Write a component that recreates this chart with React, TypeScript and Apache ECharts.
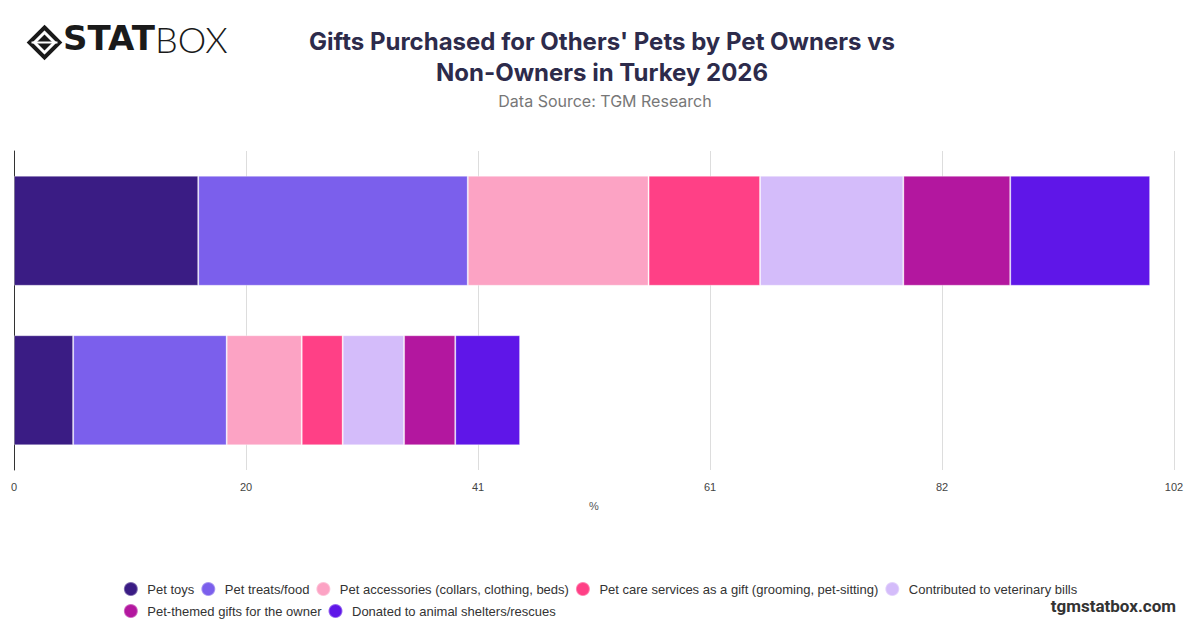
import React, { useEffect, useRef } from "react";
import * as echarts from "echarts";

const categories = ["Pet Owners", "Non-Owners"];
const seriesNames = [
  "Pet toys",
  "Pet treats/food",
  "Pet accessories (collars, clothing, beds)",
  "Pet care services as a gift (grooming, pet-sitting)",
  "Contributed to veterinary bills",
  "Pet-themed gifts for the owner",
  "Donated to animal shelters/rescues",
];
const ownersValues = [16.2, 23.7, 15.9, 9.8, 12.6, 9.4, 12.3];
const nonOwnersValues = [5.2, 13.5, 6.6, 3.6, 5.4, 4.5, 5.7];
const colors = ["#3a1c84", "#7b5fec", "#fca3c4", "#ff4086", "#d4bcfa", "#b3179f", "#5f16e8"];
const axisMax = 102;
const axisInterval = 20.4;

export default function App() {
  const ref = useRef<HTMLDivElement>(null);
  useEffect(() => {
    if (!ref.current) return;
    const chart = echarts.init(ref.current, undefined, { renderer: "svg" });
    const font = "Liberation Sans, Arial, sans-serif";
    chart.setOption({
      animation: false,
      backgroundColor: "#ffffff",
      title: [
        {
          text: "Gifts Purchased for Others' Pets by Pet Owners vs\nNon-Owners in Turkey 2026",
          left: 597,
          top: 21,
          textAlign: "center",
          textStyle: { fontFamily: "Inter, sans-serif", fontSize: 24, fontWeight: "bold", color: "#2d2b4b", lineHeight: 31 },
        },
        {
          text: "Data Source: TGM Research",
          left: 600,
          top: 88,
          textAlign: "center",
          textStyle: { fontFamily: "Inter, sans-serif", fontSize: 16, fontWeight: "normal", color: "#777777" },
        },
      ],
      grid: { left: 14, right: 26, top: 151, bottom: 158, containLabel: false },
      xAxis: {
        type: "value",
        min: 0,
        max: axisMax,
        interval: axisInterval,
        name: "%",
        nameLocation: "middle",
        nameGap: 30,
        nameTextStyle: { fontFamily: font, fontSize: 11, color: "#555" },
        axisLine: { show: false },
        axisTick: { show: false },
        axisLabel: {
          fontFamily: font,
          fontSize: 11,
          color: "#444",
          margin: 11,
          formatter: (v: number) => String(Math.round(v)),
        },
        splitLine: { show: true, lineStyle: { color: "#dddddd", width: 1 } },
      },
      yAxis: {
        type: "category",
        data: categories,
        inverse: true,
        axisLine: { show: true, lineStyle: { color: "#333333", width: 1 } },
        axisTick: { show: false },
        axisLabel: { show: false },
        splitLine: { show: false },
      },
      legend: {
        left: "center",
        width: 1000,
        top: 576,
        icon: "circle",
        itemWidth: 23,
        itemHeight: 14,
        itemGap: 6,
        textStyle: { fontFamily: font, fontSize: 13, color: "#333" },
        data: seriesNames,
      },
      series: seriesNames.map((name, i) => ({
        name,
        type: "bar",
        stack: "total",
        barWidth: "69%",
        itemStyle: { color: colors[i], borderColor: "rgba(255,255,255,0.35)", borderWidth: 1 },
        data: [ownersValues[i], nonOwnersValues[i]],
      })),
      graphic: [
        {
          type: "group",
          left: 27,
          top: 25,
          children: [
            {
              type: "polygon",
              shape: { points: [[15, 0], [30, 15], [15, 30], [0, 15]] },
              style: { fill: "none", stroke: "#1a1a1a", lineWidth: 4 },
            },
            {
              type: "polygon",
              shape: { points: [[15, 7], [23, 15], [15, 23], [7, 15]] },
              style: { fill: "#1a1a1a" },
            },
            {
              type: "line",
              shape: { x1: 2, y1: 15, x2: 28, y2: 15 },
              style: { stroke: "#ffffff", lineWidth: 2 },
            },
          ],
        },
        {
          type: "text",
          left: 63,
          top: 21,
          style: { text: "STAT", fontFamily: "DejaVu Sans, sans-serif", fontSize: 34, fontWeight: 900, fill: "#1a1a1a" },
        },
        {
          type: "text",
          left: 155,
          top: 21,
          style: { text: "BOX", fontFamily: "Lato, sans-serif", fontSize: 36, fontWeight: 300, fill: "#1a1a1a" },
        },
        {
          type: "text",
          right: 24,
          top: 597,
          style: { text: "tgmstatbox.com", fontFamily: "Roboto, sans-serif", fontSize: 17, fontWeight: "bold", fill: "#333333" },
        },
      ],
    });
    return () => chart.dispose();
  }, []);
  return <div ref={ref} style={{ position: "absolute", left: 0, top: 0, width: 1200, height: 628 }} />;
}
